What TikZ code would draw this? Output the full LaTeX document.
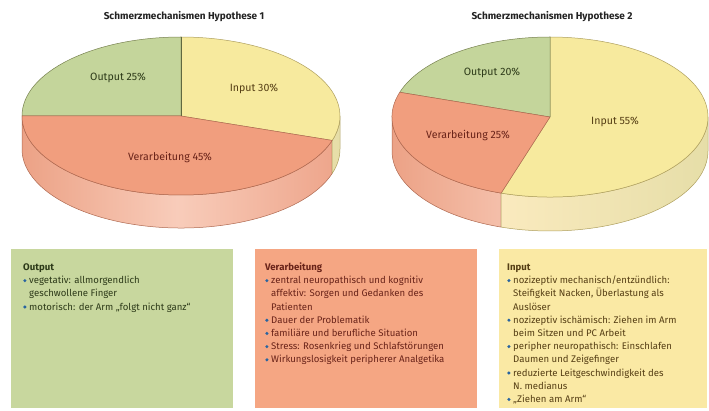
\documentclass[tikz,border=0pt]{standalone}
\usepackage{fontspec}
\setmainfont{Fira Sans}
\definecolor{gtop}{RGB}{196,213,155}
\definecolor{gline}{RGB}{120,130,80}
\definecolor{vtop}{RGB}{241,158,126}
\definecolor{vline}{RGB}{175,105,80}
\definecolor{ytop}{RGB}{247,234,158}
\definecolor{yline}{RGB}{175,160,95}
\definecolor{vsideL}{RGB}{236,162,134}
\definecolor{vsideM}{RGB}{248,204,186}
\definecolor{vsideR}{RGB}{238,166,140}
\definecolor{ysideL}{RGB}{250,234,190}
\definecolor{ysideR}{RGB}{230,222,168}
\definecolor{gbox}{RGB}{200,215,158}
\definecolor{vbox}{RGB}{245,166,131}
\definecolor{ybox}{RGB}{250,233,164}
\definecolor{gtext}{RGB}{45,58,25}
\definecolor{vtext}{RGB}{105,35,25}
\definecolor{ytext}{RGB}{85,62,20}
\definecolor{bulcol}{RGB}{40,100,160}
\definecolor{titlecol}{RGB}{35,35,35}
\newcommand{\bul}{\makebox[6pt][l]{\tikz[baseline=-0.6ex]\fill[bulcol] (0,0) circle (1.7pt);}}
\begin{document}
\begin{tikzpicture}[x=1pt,y=1pt,
  pietitle/.style={font=\fontsize{10}{12}\selectfont\bfseries, text=titlecol, inner sep=0pt},
  pielabel/.style={font=\fontsize{10.6}{12}\selectfont, inner sep=0pt},
  boxtext/.style={anchor=north west, inner sep=0pt, font=\fontsize{9.6}{13.2}\selectfont, align=left},
  edge/.style={line width=0.5pt, line join=round}]
\useasboundingbox (0,0) rectangle (709,410);
\fill[white] (0,0) rectangle (709,410);

% ---------- Pie 1 ----------
\coordinate (c1) at (181,294);
\path[edge, draw=vline, left color=vsideL, right color=vsideR, middle color=vsideM]
  (c1) ++(180:159pt and 79pt) arc[start angle=180, end angle=342, x radius=159pt, y radius=79pt]
  -- ++(0,-33) arc[start angle=342, end angle=180, x radius=159pt, y radius=79pt] -- cycle;
\path[edge, draw=yline, left color=ysideL, right color=ysideR]
  (c1) ++(342:159pt and 79pt) arc[start angle=342, end angle=360, x radius=159pt, y radius=79pt]
  -- ++(0,-33) arc[start angle=360, end angle=342, x radius=159pt, y radius=79pt] -- cycle;
\path[edge, fill=gtop, draw=gline]
  (c1) -- ++(90:159pt and 79pt) arc[start angle=90, end angle=180, x radius=159pt, y radius=79pt] -- cycle;
\path[edge, fill=ytop, draw=yline]
  (c1) -- ++(-18:159pt and 79pt) arc[start angle=-18, end angle=90, x radius=159pt, y radius=79pt] -- cycle;
\path[edge, fill=vtop, draw=vline]
  (c1) -- ++(180:159pt and 79pt) arc[start angle=180, end angle=342, x radius=159pt, y radius=79pt] -- cycle;
\draw[edge, draw=gline!80!black] (c1) -- ++(90:159pt and 79pt);

\node[pietitle] (t1) at (184,393) {Schmerzmechanismen Hypothese 1};
\node[pielabel, text=gtext] (l1o) at (118,332) {Output 25\%};
\node[pielabel, text=ytext] (l1i) at (254,321) {Input 30\%};
\node[pielabel, text=vtext] (l1v) at (170,253) {Verarbeitung 45\%};

% ---------- Pie 2 ----------
\coordinate (c2) at (550,293);
\path[edge, draw=vline, left color=vsideL, right color=vsideM]
  (c2) ++(180:158pt and 80pt) arc[start angle=180, end angle=252, x radius=158pt, y radius=80pt]
  -- ++(0,-34) arc[start angle=252, end angle=180, x radius=158pt, y radius=80pt] -- cycle;
\path[edge, draw=yline, left color=ysideL, right color=ysideR]
  (c2) ++(252:158pt and 80pt) arc[start angle=252, end angle=360, x radius=158pt, y radius=80pt]
  -- ++(0,-34) arc[start angle=360, end angle=252, x radius=158pt, y radius=80pt] -- cycle;
\path[edge, fill=ytop, draw=yline]
  (c2) -- ++(-108:158pt and 80pt) arc[start angle=-108, end angle=90, x radius=158pt, y radius=80pt] -- cycle;
\path[edge, fill=gtop, draw=gline]
  (c2) -- ++(90:158pt and 80pt) arc[start angle=90, end angle=162, x radius=158pt, y radius=80pt] -- cycle;
\path[edge, fill=vtop, draw=vline]
  (c2) -- ++(162:158pt and 80pt) arc[start angle=162, end angle=252, x radius=158pt, y radius=80pt] -- cycle;

\node[pietitle] (t2) at (552,393) {Schmerzmechanismen Hypothese 2};
\node[pielabel, text=gtext] (l2o) at (492,337) {Output 20\%};
\node[pielabel, text=vtext] (l2v) at (468,275) {Verarbeitung 25\%};
\node[pielabel, text=ytext] (l2i) at (615,288) {Input 55\%};

% ---------- Boxes ----------
\fill[gbox] (11,2) rectangle (233,161);
\fill[vbox] (255,2) rectangle (477,161);
\fill[ybox] (499,2) rectangle (707,161);

\node[boxtext, text=gtext] (bo) at (23,149) {%
\begin{tabular}{@{}l@{}l@{}}
\multicolumn{2}{@{}l@{}}{\textbf{Output}}\\
\bul & vegetativ: allmorgendlich\\
 & geschwollene Finger\\
\bul & motorisch: der Arm „folgt nicht ganz“
\end{tabular}};

\node[boxtext, text=vtext] (bv) at (265,149) {%
\begin{tabular}{@{}l@{}l@{}}
\multicolumn{2}{@{}l@{}}{\textbf{Verarbeitung}}\\
\bul & zentral neuropathisch und kognitiv\\
 & affektiv: Sorgen und Gedanken des\\
 & Patienten\\
\bul & Dauer der Problematik\\
\bul & familiäre und berufliche Situation\\
\bul & Stress: Rosenkrieg und Schlafstörungen\\
\bul & Wirkungslosigkeit peripherer Analgetika
\end{tabular}};

\node[boxtext, text=ytext] (bi) at (507,149) {%
\begin{tabular}{@{}l@{}l@{}}
\multicolumn{2}{@{}l@{}}{\textbf{Input}}\\
\bul & nozizeptiv mechanisch/entzündlich:\\
 & Steifigkeit Nacken, Überlastung als\\
 & Auslöser\\
\bul & nozizeptiv ischämisch: Ziehen im Arm\\
 & beim Sitzen und PC Arbeit\\
\bul & peripher neuropathisch: Einschlafen\\
 & Daumen und Zeigefinger\\
\bul & reduzierte Leitgeschwindigkeit des\\
 & N. medianus\\
\bul & „Ziehen am Arm“
\end{tabular}};
\end{tikzpicture}
\end{document}
